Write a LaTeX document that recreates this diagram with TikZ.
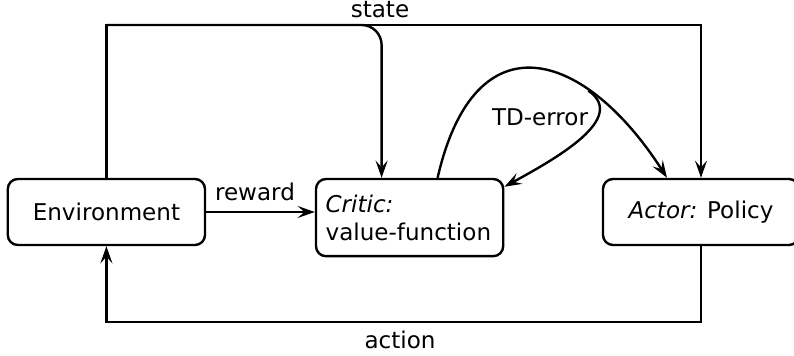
\documentclass[tikz,border=0pt]{standalone}
\usepackage{fontspec}
\setmainfont{DejaVu Sans}
\usepackage{tikz}
\usetikzlibrary{arrows.meta}

\begin{document}
\begin{tikzpicture}[
    font=\fontsize{16.4}{20}\selectfont,
    block/.style={rectangle, draw, rounded corners=0.25cm, line width=1.7pt, minimum height=1.65cm},
    arrow/.style={line width=1.7pt,->,>={Stealth[length=4.3mm,width=3mm,inset=1.7mm]}}]
    \useasboundingbox (0,0) rectangle (19.85,8.9);

    \node[block, minimum width=4.93cm] (env) at (2.66,3.6) {Environment};
    \node[block, minimum width=4.68cm, minimum height=1.93cm, align=left, text width=4.2cm] (critic) at (10.24,3.46) {\textit{Critic:}\\value-function};
    \node[block, minimum width=4.9cm] (actor) at (17.525,3.6) {\textit{Actor:} Policy};

    \coordinate (top) at (0,8.275);
    \coordinate (bottom) at (0,0.85);
    \coordinate (criticin) at ([xshift=-0.7cm]critic.north);
    \coordinate (criticout) at ([xshift=0.7cm]critic.north);
    \coordinate (tdin) at ([yshift=-0.225cm]critic.north east);
    \coordinate (actortd) at ([xshift=-0.85cm]actor.north);

    % state goes to both critic and actor
    \draw[arrow] (env.north) |- (top -| actor.north) -- (actor.north);
    \draw[arrow, rounded corners=0.5cm] (env.north |- top) -| (criticin);
    \node (state) at (9.5,8.65) {state};

    % reward into the critic
    \draw[arrow] (env.east) -- (env.east -| critic.west);
    \node (reward) at (6.375,4.1) {reward};

    % action back to the environment
    \draw[arrow] (actor.south) |- (bottom -| env.south) -- (env.south);
    \node (action) at (10,0.4) {action};

    % TD-error
    \draw[arrow] (criticout) .. controls (11.875,8.525) and (14.625,7.65) .. (actortd) coordinate[pos=0.7] (split);
    \draw[arrow] (split) .. controls (15.7,5.95) and (13.925,4.95) .. (tdin);
    \node (tderror) at (13.5,5.975) {TD-error};
\end{tikzpicture}
\end{document}
